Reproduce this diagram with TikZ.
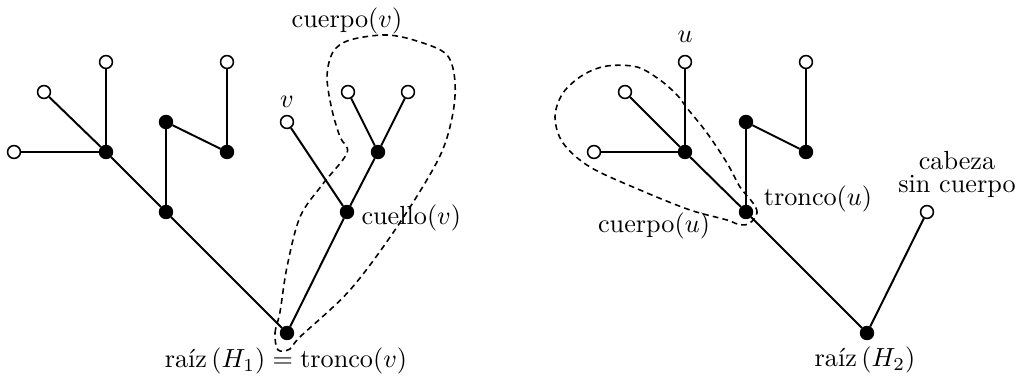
\documentclass[tikz,border=0pt]{standalone}
\begin{document}
\begin{tikzpicture}[x=0.3817pt,y=-0.3817pt,
  edge/.style={line width=0.75pt},
  opn/.style={circle,draw,fill=white,line width=0.6pt,inner sep=0pt,minimum size=4.9pt},
  fil/.style={circle,draw,fill=black,line width=0.6pt,inner sep=0pt,minimum size=4.9pt},
  body/.style={line width=0.6pt,dash pattern=on 2.2pt off 1.6pt},
  lbl/.style={inner sep=0pt}]
\useasboundingbox (0,0) rectangle (1019,383);
% left tree
\node[opn] (a1) at (14,152) {};
\node[opn] (a2) at (44,92) {};
\node[opn] (a3) at (106,62) {};
\node[fil] (b1) at (106,152) {};
\node[fil] (c1) at (166,212) {};
\node[fil] (c2) at (166,122) {};
\node[fil] (c3) at (227,152) {};
\node[opn] (c4) at (227,62) {};
\node[fil] (r1) at (287,333) {};
\node[fil] (n1) at (347,212) {};
\node[opn] (v) at (287,122) {};
\node[fil] (d) at (378,152) {};
\node[opn] (d1) at (348,92) {};
\node[opn] (d2) at (408,92) {};
\draw[edge] (a1) -- (b1);
\draw[edge] (a2) -- (b1);
\draw[edge] (a3) -- (b1);
\draw[edge] (b1) -- (c1);
\draw[edge] (c1) -- (c2);
\draw[edge] (c2) -- (c3);
\draw[edge] (c3) -- (c4);
\draw[edge] (c1) -- (r1);
\draw[edge] (r1) -- (n1);
\draw[edge] (n1) -- (v);
\draw[edge] (n1) -- (d);
\draw[edge] (d) -- (d1);
\draw[edge] (d) -- (d2);
\draw[body] plot[smooth cycle,tension=0.55] coordinates {
 (278,350) (275,333) (280,312) (287,267) (300,217) (322,185) (347,153)
 (340,137) (332,110) (327,77) (333,52) (350,40) (387,35) (420,42) (447,55) (455,82)
 (452,118) (438,160) (397,227) (350,290) (300,337) (290,349)};
\node[lbl] (lcv) at (347,21) {cuerpo$(v)$};
\node[lbl] (lv) at (287,102) {$v$};
\node[lbl,anchor=west] (lnv) at (361,218) {cuello$(v)$};
\node[lbl] (lr1) at (286,361) {raíz\,$(H_1) = \mathrm{tronco}(v)$};
% right tree
\node[opn] (e1) at (594,152) {};
\node[opn] (e2) at (625,92) {};
\node[opn] (u) at (685,62) {};
\node[fil] (f1) at (685,152) {};
\node[fil] (t) at (746,212) {};
\node[fil] (g1) at (746,122) {};
\node[fil] (g2) at (806,152) {};
\node[opn] (g3) at (806,62) {};
\node[fil] (r2) at (867,333) {};
\node[opn] (h) at (927,212) {};
\draw[edge] (e1) -- (f1);
\draw[edge] (e2) -- (f1);
\draw[edge] (u) -- (f1);
\draw[edge] (f1) -- (t);
\draw[edge] (t) -- (g1);
\draw[edge] (g1) -- (g2);
\draw[edge] (g2) -- (g3);
\draw[edge] (t) -- (r2);
\draw[edge] (r2) -- (h);
\draw[body] plot[smooth cycle,tension=0.55] coordinates {
 (750,223) (757,213) (753,203) (740,187) (727,163) (707,133) (687,108) (677,95)
 (660,80) (637,67) (607,66) (583,75) (563,93) (555,117) (563,143) (590,167)
 (640,190) (690,210) (727,220) (740,225)};
\node[lbl] (lu) at (685,37) {$u$};
\node[lbl] (ltu) at (818,199) {tronco$(u)$};
\node[lbl] (lcu) at (654,226) {cuerpo$(u)$};
\node[lbl,align=center,text depth=0pt] (lh) at (957,172) {cabeza\\[-3pt]sin cuerpo};
\node[lbl] (lr2) at (865,360) {raíz\,$(H_2)$};
\end{tikzpicture}
\end{document}
